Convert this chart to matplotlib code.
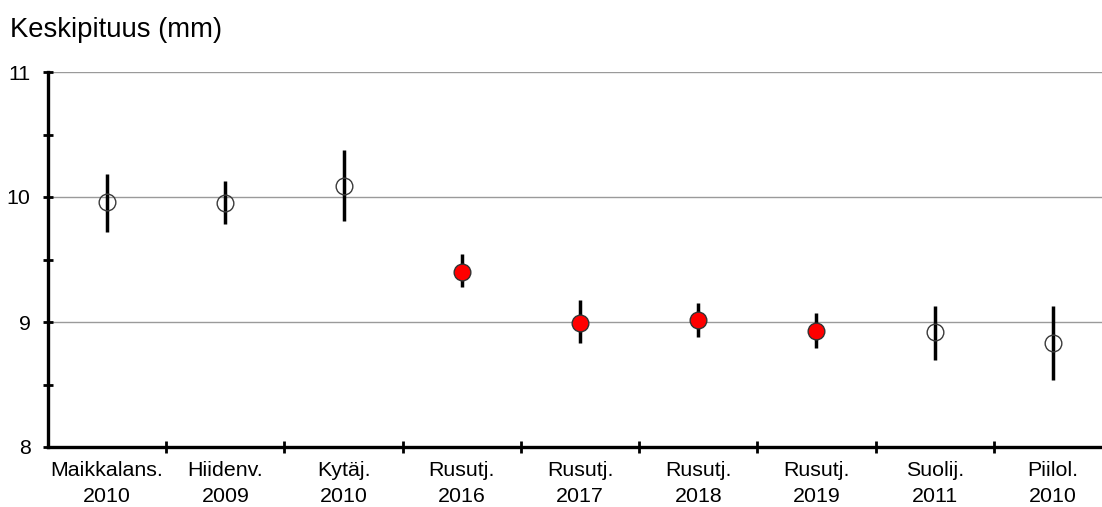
import matplotlib
matplotlib.use("Agg")
import matplotlib.pyplot as plt
from matplotlib.ticker import FixedLocator

plt.rcParams['font.family'] = ['Liberation Sans', 'DejaVu Sans']

categories = ["Maikkalans.\n2010", "Hiidenv.\n2009", "Kytäj.\n2010", "Rusutj.\n2016",
              "Rusutj.\n2017", "Rusutj.\n2018", "Rusutj.\n2019", "Suolij.\n2011", "Piilol.\n2010"]
means = [9.962, 9.950, 10.090, 9.402, 8.994, 9.016, 8.930, 8.922, 8.830]
upper = [10.186, 10.130, 10.376, 9.544, 9.176, 9.154, 9.069, 9.130, 9.130]
lower = [9.722, 9.782, 9.810, 9.278, 8.830, 8.878, 8.794, 8.696, 8.536]
highlight = [False, False, False, True, True, True, True, False, False]
yticks = [8, 9, 10, 11]
yminor = [8.5, 9.5, 10.5]

fig = plt.figure(figsize=(11.02, 5.07), dpi=100)
W, H = 1102, 507
left, right, bottom, top = 48, 1112, 447, 72
ax = fig.add_axes([left / W, 1 - bottom / H, (right - left) / W, (bottom - top) / H])

x = list(range(len(categories)))
ax.set_xlim(-0.5, len(categories) - 0.5)
ax.set_ylim(8, 11)

ax.set_yticks(yticks)
ax.set_yticklabels([str(v) for v in yticks])
ax.yaxis.set_minor_locator(FixedLocator(yminor))
ax.grid(axis='y', which='major', color='#9a9a9a', linewidth=1.0, zorder=0)

for i in x:
    ax.plot([i, i], [lower[i], upper[i]], color='black', linewidth=2.5, zorder=3, solid_capstyle='butt')
    if highlight[i]:
        ax.plot(i, means[i], 'o', markersize=12, markerfacecolor='#ff0000',
                markeredgecolor='#333333', markeredgewidth=1.0, zorder=4)
    else:
        ax.plot(i, means[i], 'o', markersize=12, markerfacecolor='none',
                markeredgecolor='#3a3a3a', markeredgewidth=1.0, zorder=4)

ax.set_xticks(x)
ax.set_xticklabels(categories, fontsize=15.4, linespacing=1.45)
ax.xaxis.set_minor_locator(FixedLocator([i + 0.5 for i in x]))
ax.tick_params(axis='x', which='major', length=0, pad=10)
ax.tick_params(axis='x', which='minor', direction='inout', length=8, width=2)
ax.tick_params(axis='y', which='both', direction='inout', length=7, width=2, labelsize=15.4, pad=9)

for s in ['top', 'right']:
    ax.spines[s].set_visible(False)
for s in ['left', 'bottom']:
    ax.spines[s].set_linewidth(2.4)

fig.text(10 / W, 1 - 30 / H, "Keskipituus (mm)", fontsize=19.8, va='center', ha='left')

fig.savefig("out.png", dpi=100)
